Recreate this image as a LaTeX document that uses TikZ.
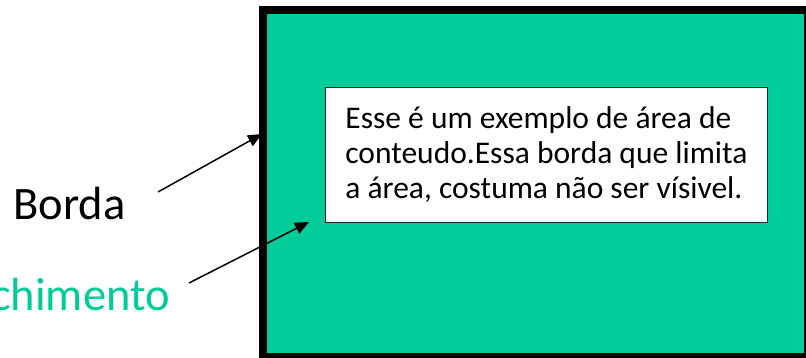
\documentclass[tikz,border=0pt]{standalone}
\usepackage{fontspec}
\setmainfont{Carlito}
\usetikzlibrary{arrows.meta}
\definecolor{fillgreen}{RGB}{0,204,153}
\tikzset{
  outerbox/.style={draw=black, line width=8pt, fill=fillgreen},
  contentbox/.style={draw=black!85, line width=1pt, fill=white, anchor=north west,
    minimum width=442pt, minimum height=135pt, align=left, inner sep=0pt,
    font=\fontsize{31.5}{35}\selectfont},
  biglabel/.style={font=\fontsize{46.5}{52}\selectfont, inner sep=0pt},
  pointer/.style={line width=1.5pt, -{Triangle[length=14pt,width=12pt]}}
}
\begin{document}
\begin{tikzpicture}[x=1pt,y=-1pt]
\useasboundingbox (0,0) rectangle (806,358);
\clip (0,0) rectangle (806,358);
\draw[outerbox] (263,10) rectangle (808,357);
\node[contentbox] (content) at (325,87) {Esse é um exemplo de área de\\conteudo.Essa borda que limita\\a área, costuma não ser vísivel.};
\node[biglabel, anchor=base west] (borda) at (13,220) {Borda};
\node[biglabel, anchor=base east, text=fillgreen] (preench) at (170,310) {Preenchimento};
\coordinate (bstart) at (158,192);
\coordinate (btip) at (262,134);
\coordinate (pstart) at (189,283);
\coordinate (ptip) at (309,222);
\draw[pointer] (bstart) -- (btip);
\draw[pointer] (pstart) -- (ptip);
\end{tikzpicture}
\end{document}
